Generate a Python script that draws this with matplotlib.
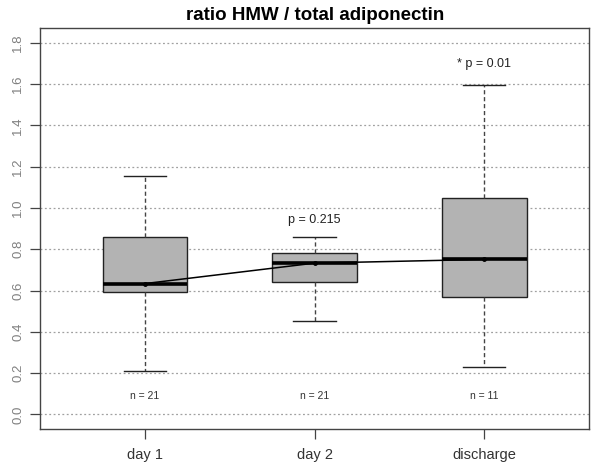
import matplotlib
matplotlib.use("Agg")
import matplotlib.pyplot as plt

categories = ["day 1", "day 2", "discharge"]
whisker_low = [0.21, 0.453, 0.231]
q1 = [0.594, 0.643, 0.571]
medians = [0.634, 0.733, 0.751]
q3 = [0.861, 0.780, 1.049]
whisker_high = [1.157, 0.861, 1.594]
n_labels = ["n = 21", "n = 21", "n = 11"]
p_labels = ["", "p = 0.215", "* p = 0.01"]
p_y = [None, 0.94, 1.70]
n_y = 0.09
yticks = [0.0, 0.2, 0.4, 0.6, 0.8, 1.0, 1.2, 1.4, 1.6, 1.8]

plt.rcParams['font.family'] = ['Liberation Sans', 'DejaVu Sans']

fig = plt.figure(figsize=(6, 4.66), dpi=100)
ax = fig.add_axes([40/600, 1-429.3/466, (589.3-40)/600, (429.3-28)/466])

stats = []
for i, c in enumerate(categories):
    stats.append(dict(label=c, whislo=whisker_low[i], q1=q1[i], med=medians[i],
                      q3=q3[i], whishi=whisker_high[i], fliers=[]))

for y in yticks:
    ax.axhline(y, color="#a0a0a0", linestyle=(0, (1.5, 2)), linewidth=0.9, zorder=0)

pos = list(range(1, len(categories) + 1))
ax.bxp(stats, positions=pos, widths=0.5, patch_artist=True, showfliers=False,
       boxprops=dict(facecolor="#b3b3b3", edgecolor="#222222", linewidth=1.0),
       medianprops=dict(color="black", linewidth=2.6),
       whiskerprops=dict(color="#444444", linestyle=(0, (3, 2)), linewidth=1.0),
       capprops=dict(color="#222222", linewidth=1.0), capwidths=0.25,
       zorder=2)

ax.plot(pos, medians, color="black", linewidth=1.1, marker="o", markersize=2.5, zorder=4)

for i, p in enumerate(pos):
    ax.text(p, n_y, n_labels[i], ha="center", va="center", fontsize=7.5, color="#333333")
    if p_labels[i]:
        ax.text(p, p_y[i], p_labels[i], ha="center", va="center", fontsize=9, color="#222222")

ax.set_xlim(0.38, 3.62)
ax.set_ylim(-0.072, 1.872)
ax.set_yticks(yticks)
ax.set_yticklabels([f"{v:.1f}" for v in yticks], rotation=90, va="center",
                   fontsize=9.5, color="#808080")
ax.set_xticks(pos)
ax.set_xticklabels(categories, fontsize=10.5, color="#333333")
ax.tick_params(axis="both", length=7.5, width=0.9, color="#444444", pad=4)
ax.tick_params(axis="x", pad=6)
for s in ax.spines.values():
    s.set_color("#444444")
    s.set_linewidth(1.0)

fig.text((40+589.3)/2/600, 1-15/466, "ratio HMW / total adiponectin",
         ha="center", va="center", fontsize=13.5, fontweight="bold")

fig.savefig("out.png", dpi=100)
